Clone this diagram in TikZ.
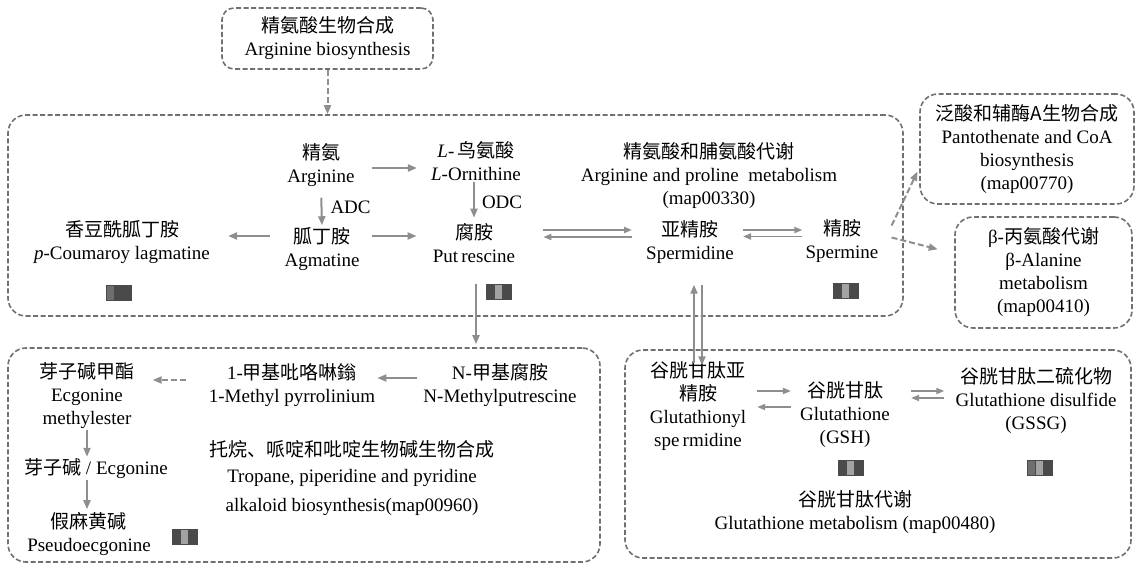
\documentclass[tikz,border=0pt]{standalone}
\usepackage{fontspec}
\setmainfont{Liberation Serif}
\newfontfamily\cjk{Noto Sans CJK SC}
\usetikzlibrary{arrows.meta,positioning}

\definecolor{boxgray}{HTML}{707070}
\definecolor{arrgray}{HTML}{8E8E8E}
\definecolor{bardark}{HTML}{4A4A4A}
\definecolor{barmid}{HTML}{6E6E6E}
\definecolor{barlight}{HTML}{A2A2A2}

\newcommand{\zh}[1]{{\cjk\fontsize{19}{23}\selectfont #1}}
% small three-cell expression bar: top-left corner, three fills
\newcommand{\expbar}[4]{%
  \foreach \c [count=\i from 0] in {#2,#3,#4}
    \draw[bardark, line width=0.8pt, fill=\c, shift={#1}] (8.3*\i,0) rectangle ++(8.3,15);}

\tikzset{
  grp/.style={draw=boxgray, dash pattern=on 5pt off 2.5pt, line width=1.6pt, rounded corners=18pt},
  lbl/.style={align=center, inner sep=1pt, font=\fontsize{19}{23}\selectfont},
  arr/.style={draw=arrgray, line width=2pt, -{Triangle[length=9pt,width=7pt]}},
  harr/.style={draw=arrgray, line width=1.8pt, -{Triangle[length=8pt,width=6pt]}},
  dasharr/.style={arr, dash pattern=on 6pt off 3pt},
}

\begin{document}
\begin{tikzpicture}[x=1pt, y=-1pt]
\useasboundingbox (0,0) rectangle (1136,564);

% Boxes
\node[grp, rounded corners=12pt, lbl, minimum width=211pt, minimum height=61pt] (argbio) at (327.5,38.5)
  {\zh{精氨酸生物合成}\\Arginine biosynthesis};
\node[grp, minimum width=895pt, minimum height=201pt] (mainbox) at (455.5,215.5) {};
\node[grp, lbl, minimum width=214pt, minimum height=110pt] (pantobox) at (1027,149)
  {\zh{泛酸和辅酶A生物合成}\\Pantothenate and CoA\\biosynthesis\\(map00770)};
\node[grp, lbl, minimum width=177pt, minimum height=111pt] (alabox) at (1043.5,272.5)
  {β-\zh{丙氨酸代谢}\\β-Alanine\\metabolism\\(map00410)};
\node[grp, minimum width=592pt, minimum height=214pt] (tropbox) at (304,455) {};
\node[grp, minimum width=506pt, minimum height=208pt] (glubox) at (878,454) {};

% Arginine and proline metabolism
\node[lbl] (arg) at (321,165) {\zh{精氨}\\Arginine};
\node[lbl] (orn) at (476,161.5) {\textit{L}-\,\zh{鸟氨酸}\\\textit{L}-Ornithine};
\node[lbl] (agm) at (322,249) {\zh{胍丁胺}\\Agmatine};
\node[lbl] (cou) at (122,242.5) {\zh{香豆酰胍丁胺}\\\textit{p}-Coumaroy lagmatine};
\node[lbl] (put) at (474,243.5) {\zh{腐胺}\\Put\,rescine};
\node[lbl] (arpro) at (709,176) {\zh{精氨酸和脯氨酸代谢}\\Arginine and proline\ \ metabolism\\(map00330)};
\node[lbl] (spd) at (690,242) {\zh{亚精胺}\\Spermidine};
\node[lbl] (spm) at (842,241.5) {\zh{精胺}\\Spermine};

% Tropane, piperidine and pyridine alkaloid biosynthesis
\node[lbl] (egm) at (87,396) {\zh{芽子碱甲酯}\\Ecgonine\\methylester};
\node[lbl] (ecg) at (96,469) {\zh{芽子碱} / Ecgonine};
\node[lbl] (pse) at (89,534) {\zh{假麻黄碱}\\Pseudoecgonine};
\node[lbl] (mpy) at (292,385) {1-\zh{甲基吡咯啉鎓}\\1-Methyl pyrrolinium};
\node[lbl] (nmp) at (500,385) {N-\zh{甲基腐胺}\\N-Methylputrescine};
\node[lbl] (troptxt) at (352,478)
  {\zh{托烷、哌啶和吡啶生物碱生物合成}\\[3pt]Tropane, piperidine and pyridine\\[6pt]alkaloid biosynthesis(map00960)};

% Glutathione metabolism
\node[lbl] (gsp) at (698,406) {\zh{谷胱甘肽亚}\\\zh{精胺}\\Glutathionyl\\spe\,rmidine};
\node[lbl] (gsh) at (845,415) {\zh{谷胱甘肽}\\Glutathione\\(GSH)};
\node[lbl] (gssg) at (1036,400) {\zh{谷胱甘肽二硫化物}\\Glutathione disulfide\\(GSSG)};
\node[lbl] (glutxt) at (855,512) {\zh{谷胱甘肽代谢}\\Glutathione metabolism (map00480)};

% Expression bars
\expbar{(106,285)}{barmid}{bardark}{bardark}
\expbar{(486,284)}{bardark}{barlight}{bardark}
\expbar{(833,283)}{bardark}{barlight}{bardark}
\expbar{(172,529)}{bardark}{barlight}{bardark}
\expbar{(838,460)}{bardark}{barlight}{bardark}
\expbar{(1027,460)}{barmid}{barlight}{bardark}

% Arrows
\draw[dasharr] (argbio.south) -- (argbio.south |- mainbox.north);
\draw[arr, shorten <=16pt, shorten >=13pt] ([yshift=-3pt]arg.east) -- ([yshift=-3pt]arg.east -| orn.west);
\draw[arr, shorten <=10pt, shorten >=1pt] (arg.south) -- (agm.north) node[midway, right=7pt, lbl] {ADC};
\draw[arr, shorten >=5pt] ([xshift=-2pt]orn.south) -- ([xshift=-2pt]orn.south |- put.north) node[midway, right=6pt, lbl] {ODC};
\draw[arr, shorten <=13pt, shorten >=17pt] ([yshift=13pt]agm.west) -- ([yshift=13pt]agm.west -| cou.east);
\draw[arr, shorten <=11pt, shorten >=15pt] ([yshift=13pt]agm.east) -- ([yshift=13pt]agm.east -| put.west);
\draw[harr, shorten <=27pt, shorten >=13pt] ([yshift=13.5pt]put.east) -- ([yshift=13.5pt]put.east -| spd.west);
\draw[harr, shorten <=13pt, shorten >=27pt] ([yshift=5pt]spd.west) -- ([yshift=5pt]spd.west -| put.east);
\draw[harr, shorten <=8pt, shorten >=2pt] ([yshift=12pt]spd.east) -- ([yshift=12pt]spd.east -| spm.west);
\draw[harr, shorten <=2pt, shorten >=8pt] ([yshift=5pt]spm.west) -- ([yshift=5pt]spm.west -| spd.east);
\draw[dasharr, shorten >=4pt] ([shift={(12,-16)}]spm.east) -- (pantobox.190);
\draw[dasharr, shorten >=17pt] ([shift={(12,-4)}]spm.east) -- (alabox.168);
\draw[arr, shorten <=20pt, shorten >=3pt] ([xshift=2pt]put.south) -- ([xshift=2pt]put.south |- tropbox.north);
\draw[arr, shorten <=5pt, shorten >=1pt] ([yshift=7pt]nmp.west) -- ([yshift=7pt]nmp.west -| mpy.east);
\draw[dasharr, shorten <=22pt, shorten >=17pt] ([yshift=5pt]mpy.west) -- ([yshift=5pt]mpy.west -| egm.east);
\draw[arr, shorten >=1pt] (egm.south) -- (egm.south |- ecg.north);
\draw[arr, shorten >=2pt] (egm.south |- ecg.south) -- (egm.south |- pse.north);
\draw[arr, shorten <=-3pt, shorten >=20pt] ([xshift=-4pt]gsp.north) -- ([xshift=-4pt]gsp.north |- spd.south);
\draw[arr, shorten <=20pt, shorten >=-5pt] ([xshift=4pt]gsp.north |- spd.south) -- ([xshift=4pt]gsp.north);
\draw[harr, shorten <=10pt, shorten >=8pt] ([yshift=15pt]gsp.east) -- ([yshift=15pt]gsp.east -| gsh.west);
\draw[harr, shorten <=8pt, shorten >=10pt] ([yshift=8pt]gsh.west) -- ([yshift=8pt]gsh.west -| gsp.east);
\draw[harr, shorten <=20pt, shorten >=10pt] ([yshift=9pt]gssg.west -| gsh.east) -- ([yshift=9pt]gssg.west);
\draw[harr, shorten <=10pt, shorten >=20pt] ([yshift=2pt]gssg.west) -- ([yshift=2pt]gssg.west -| gsh.east);

\end{tikzpicture}
\end{document}
